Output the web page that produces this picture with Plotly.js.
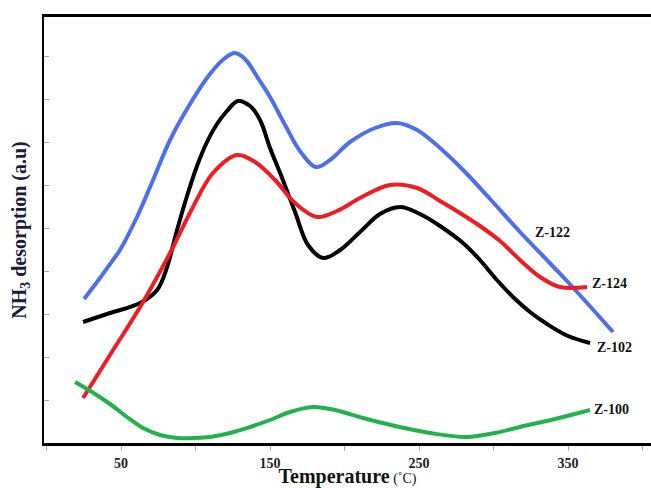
<!DOCTYPE html>
<html>
<head>
<meta charset="utf-8">
<script src="https://cdn.plot.ly/plotly-3.0.1.min.js"></script>
<style>html,body{margin:0;padding:0;background:#fff;}#chart{width:651px;height:488px;}</style>
</head>
<body>
<div id="chart"></div>
<script>
// Temperature (°C) and NH3 desorption (a.u.)
const z122_x = [25.2, 35.9, 44.6, 49.3, 60.7, 71.5, 82.9, 96.3, 109.7, 119.8, 126.5, 133.2, 141.9, 150.0, 160.1, 170.1, 180.9, 190.3, 203.7, 220.5, 235.2, 248.7, 264.1, 280.9, 297.7, 317.8, 349.3, 380.2];
const z122_y = [14.4, 16.5, 18.3, 19.3, 22.6, 26.3, 30.3, 33.9, 36.9, 38.5, 39.0, 38.4, 36.5, 34.6, 31.8, 29.2, 27.6, 28.3, 30.1, 31.5, 32.0, 31.3, 29.5, 27.1, 24.4, 21.1, 16.2, 11.1];

const z102_x = [24.5, 42.6, 62.8, 74.2, 80.9, 87.6, 94.3, 101.0, 107.7, 114.4, 121.1, 128.5, 136.6, 143.3, 150.0, 158.1, 166.8, 175.5, 185.6, 197.0, 210.4, 223.8, 237.2, 250.7, 264.1, 279.5, 290.9, 302.3, 313.1, 324.5, 335.9, 350.0, 364.8];
const z102_y = [12.1, 13.0, 14.0, 15.3, 17.6, 21.3, 24.7, 27.7, 30.1, 31.9, 33.2, 34.2, 33.7, 32.3, 29.5, 26.5, 23.1, 19.8, 18.5, 19.3, 21.1, 22.9, 23.6, 22.9, 21.7, 20.0, 18.3, 16.3, 14.6, 13.1, 11.9, 10.7, 10.0];

const z124_x = [24.5, 42.6, 62.8, 82.9, 98.3, 111.7, 127.9, 140.0, 153.4, 166.8, 181.5, 195.0, 210.4, 230.5, 248.7, 264.1, 277.5, 290.9, 304.4, 317.8, 331.2, 344.6, 362.8];
const z124_y = [4.5, 8.8, 13.6, 19.0, 23.6, 27.0, 28.8, 28.1, 26.3, 24.0, 22.6, 23.2, 24.5, 25.8, 25.5, 24.2, 23.0, 21.7, 20.2, 18.3, 16.6, 15.6, 15.6];

const z100_x = [19.1, 30.5, 42.6, 54.0, 64.8, 76.2, 87.6, 99.7, 109.7, 123.2, 136.6, 150.0, 163.4, 178.9, 193.6, 212.4, 233.9, 257.4, 282.2, 301.0, 317.8, 341.3, 364.8];
const z100_y = [6.1, 5.1, 3.9, 2.6, 1.5, 0.8, 0.5, 0.5, 0.6, 1.0, 1.6, 2.3, 3.1, 3.6, 3.3, 2.5, 1.7, 1.0, 0.6, 1.0, 1.6, 2.4, 3.3];

const seriesNames = ['Z-122', 'Z-124', 'Z-102', 'Z-100'];
const xTickVals = [50, 150, 250, 350];
const xTickText = ['50', '150', '250', '350'];

const serif = 'Liberation Serif, Times New Roman, serif';

function trace(x, y, color) {
  return {x: x, y: y, type: 'scatter', mode: 'lines',
          line: {color: color, width: 4, shape: 'spline', smoothing: 1.0},
          hoverinfo: 'skip', showlegend: false};
}

const data = [
  trace(z122_x, z122_y, '#4d70ea'),
  trace(z102_x, z102_y, '#000000'),
  trace(z124_x, z124_y, '#ee1d23'),
  trace(z100_x, z100_y, '#22b14c')
];

const labelFont = {family: serif, size: 14, color: '#111'};
const annotations = [
  {x: 339.6, y: 21.1, text: '<b>' + seriesNames[0] + '</b>'},
  {x: 378.1, y: 16.0, text: '<b>' + seriesNames[1] + '</b>'},
  {x: 380.9, y: 9.6, text: '<b>' + seriesNames[2] + '</b>'},
  {x: 379.5, y: 3.4, text: '<b>' + seriesNames[3] + '</b>'}
].map(a => Object.assign(a, {xref: 'x', yref: 'y', showarrow: false, xanchor: 'center', yanchor: 'middle', font: labelFont}));

const layout = {
  width: 651, height: 488,
  margin: {l: 44, r: 0, t: 17, b: 45, pad: 0},
  paper_bgcolor: '#ffffff', plot_bgcolor: '#ffffff',
  showlegend: false,
  xaxis: {
    range: [-1.7, 405.7], showgrid: false, zeroline: false,
    showline: true, linecolor: '#000', linewidth: 3, mirror: true,
    tickmode: 'array', tickvals: xTickVals, ticktext: xTickText,
    ticks: 'outside', ticklen: 5, tickwidth: 1, tickcolor: '#aaa',
    minor: {tick0: 0, dtick: 50, ticks: 'outside', ticklen: 5, tickwidth: 1, tickcolor: '#aaa', showgrid: false},
    tickfont: {family: serif, size: 14, color: '#222', weight: 'bold'},
    title: {text: '<b>Temperature</b><span style="font-size:14px"> (˚C)</span>',
            font: {family: serif, size: 20, color: '#111'}, standoff: 0}
  },
  yaxis: {
    range: [0, 42.6], showgrid: false, zeroline: false,
    showline: true, linecolor: '#000', linewidth: 2.5, mirror: false,
    tick0: 0, dtick: 4.3, ticks: 'inside', ticklen: 5, tickwidth: 1, tickcolor: '#aaa',
    showticklabels: false,
    title: {text: '<b>NH<sub>3</sub> desorption (a.u)</b>',
            font: {family: serif, size: 20, color: '#1c1c38'}, standoff: 10}
  },
  annotations: annotations
};

Plotly.newPlot('chart', data, layout, {displayModeBar: false, staticPlot: true});
</script>
</body>
</html>
